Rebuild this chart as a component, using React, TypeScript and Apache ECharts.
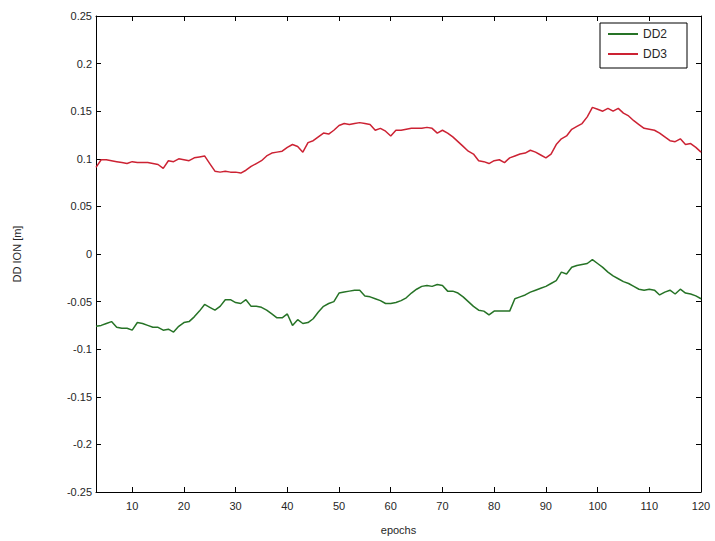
import React, { useEffect, useRef } from "react";
import * as echarts from "echarts";

const epochs: number[] = [];
for (let e = 3; e <= 120; e++) epochs.push(e);

const dd2: number[] = [
  -0.076, -0.075, -0.073, -0.071, -0.077, -0.078, -0.078, -0.080, -0.072, -0.073,
  -0.075, -0.077, -0.077, -0.080, -0.079, -0.082, -0.076, -0.072, -0.071, -0.066,
  -0.060, -0.053, -0.056, -0.059, -0.055, -0.048, -0.048, -0.051, -0.052, -0.048,
  -0.055, -0.055, -0.056, -0.059, -0.063, -0.067, -0.067, -0.063, -0.075, -0.069,
  -0.073, -0.072, -0.068, -0.061, -0.055, -0.052, -0.050, -0.041, -0.040, -0.039,
  -0.038, -0.038, -0.044, -0.045, -0.047, -0.049, -0.052, -0.052, -0.051, -0.049,
  -0.046, -0.041, -0.037, -0.034, -0.033, -0.034, -0.032, -0.033, -0.039, -0.039,
  -0.041, -0.045, -0.050, -0.055, -0.059, -0.060, -0.064, -0.060, -0.060, -0.060,
  -0.060, -0.047, -0.045, -0.043, -0.040, -0.038, -0.036, -0.034, -0.031, -0.028,
  -0.019, -0.021, -0.014, -0.012, -0.011, -0.010, -0.006, -0.010, -0.014, -0.019,
  -0.023, -0.026, -0.029, -0.031, -0.034, -0.037, -0.038, -0.037, -0.038, -0.043,
  -0.040, -0.038, -0.042, -0.037, -0.041, -0.042, -0.044, -0.047,
];

const dd3: number[] = [
  0.091, 0.099, 0.099, 0.098, 0.097, 0.096, 0.095, 0.097, 0.096, 0.096,
  0.096, 0.095, 0.094, 0.090, 0.098, 0.097, 0.100, 0.099, 0.098, 0.101,
  0.102, 0.103, 0.095, 0.087, 0.086, 0.087, 0.086, 0.086, 0.085, 0.088,
  0.092, 0.095, 0.098, 0.103, 0.106, 0.107, 0.108, 0.112, 0.115, 0.113,
  0.107, 0.117, 0.119, 0.123, 0.127, 0.126, 0.130, 0.135, 0.137, 0.136,
  0.137, 0.138, 0.137, 0.136, 0.130, 0.132, 0.129, 0.124, 0.130, 0.130,
  0.131, 0.132, 0.132, 0.132, 0.133, 0.132, 0.127, 0.130, 0.127, 0.123,
  0.118, 0.113, 0.108, 0.105, 0.098, 0.097, 0.095, 0.098, 0.099, 0.096,
  0.101, 0.103, 0.105, 0.106, 0.109, 0.107, 0.104, 0.101, 0.105, 0.115,
  0.121, 0.124, 0.131, 0.134, 0.137, 0.144, 0.154, 0.152, 0.150, 0.153,
  0.150, 0.153, 0.148, 0.145, 0.140, 0.136, 0.132, 0.131, 0.130, 0.127,
  0.123, 0.119, 0.118, 0.121, 0.115, 0.116, 0.112, 0.107,
];

const xTicks: number[] = [10, 20, 30, 40, 50, 60, 70, 80, 90, 100, 110, 120];
const seriesNames: string[] = ["DD2", "DD3"];

const FONT = "'Liberation Sans', Arial, sans-serif";
const TXT = "#262626";

export default function App() {
  const ref = useRef<HTMLDivElement>(null);
  useEffect(() => {
    document.body.style.margin = "0";
    if (!ref.current) return;
    const chart = echarts.init(ref.current, null, { renderer: "svg" });
    const axisLine = { show: true, onZero: false, lineStyle: { color: "#000", width: 1 } };
    const tickStyle = { show: true, inside: true, length: 5, lineStyle: { color: "#000", width: 1 } };
    chart.setOption({
      animation: false,
      backgroundColor: "#fff",
      textStyle: { fontFamily: FONT },
      grid: { left: 96, top: 16, right: 14, bottom: 49, containLabel: false },
      legend: {
        orient: "vertical",
        left: 600,
        top: 23,
        padding: [5, 20, 8, 8],
        itemGap: 8,
        itemWidth: 30,
        itemHeight: 2,
        icon: "rect",
        backgroundColor: "#fff",
        borderColor: "#000",
        borderWidth: 1,
        borderRadius: 0,
        textStyle: { color: TXT, fontSize: 12, fontFamily: FONT },
        data: seriesNames,
      },
      xAxis: [
        {
          type: "value",
          min: 3,
          max: 120,
          position: "bottom",
          name: "epochs",
          nameLocation: "middle",
          nameGap: 32,
          nameTextStyle: { color: TXT, fontSize: 11, fontFamily: FONT },
          axisLine,
          axisTick: { ...tickStyle, customValues: xTicks },
          axisLabel: { color: TXT, fontSize: 11, margin: 8, fontFamily: FONT, customValues: xTicks },
          splitLine: { show: false },
        },
        {
          type: "value",
          min: 3,
          max: 120,
          position: "top",
          axisLine,
          axisTick: { ...tickStyle, customValues: xTicks },
          axisLabel: { show: false, customValues: xTicks },
          splitLine: { show: false },
        },
      ],
      yAxis: [
        {
          type: "value",
          min: -0.25,
          max: 0.25,
          interval: 0.05,
          position: "left",
          name: "DD ION [m]",
          nameLocation: "middle",
          nameGap: 74,
          nameTextStyle: { color: TXT, fontSize: 11, fontFamily: FONT },
          axisLine,
          axisTick: tickStyle,
          axisLabel: {
            color: TXT,
            fontSize: 11,
            margin: 4,
            fontFamily: FONT,
            formatter: (v: number) => String(Math.round(v * 100) / 100),
          },
          splitLine: { show: false },
        },
        {
          type: "value",
          min: -0.25,
          max: 0.25,
          interval: 0.05,
          position: "right",
          axisLine,
          axisTick: tickStyle,
          axisLabel: { show: false },
          splitLine: { show: false },
        },
      ],
      series: [
        {
          name: seriesNames[0],
          type: "line",
          symbol: "none",
          data: epochs.map((e, i) => [e, dd2[i]]),
          lineStyle: { color: "#267326", width: 1.5 },
          itemStyle: { color: "#267326" },
        },
        {
          name: seriesNames[1],
          type: "line",
          symbol: "none",
          data: epochs.map((e, i) => [e, dd3[i]]),
          lineStyle: { color: "#cc2233", width: 1.5 },
          itemStyle: { color: "#cc2233" },
        },
      ],
    });
    return () => chart.dispose();
  }, []);
  return <div ref={ref} style={{ width: 715, height: 541 }} />;
}
